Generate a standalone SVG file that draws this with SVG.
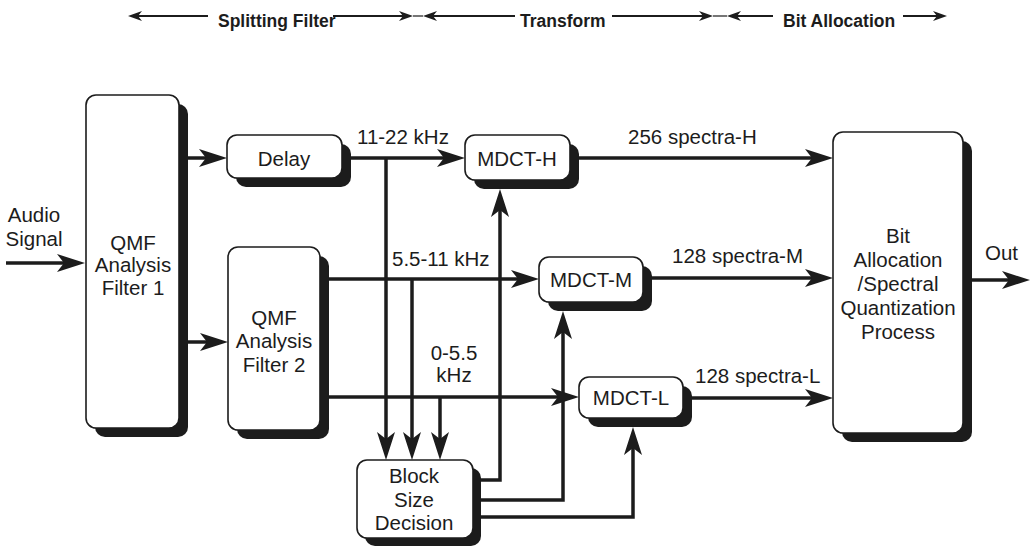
<svg xmlns="http://www.w3.org/2000/svg" width="1034" height="547" viewBox="0 0 1034 547">
  <defs>
    <!-- barbed arrowhead for signal paths: tip sits 10px past the path end -->
    <marker id="arr" viewBox="0 0 28 18" refX="18" refY="9" markerWidth="28" markerHeight="18" markerUnits="userSpaceOnUse" orient="auto">
      <path d="M0,0 L28,9 L0,18 L7,9 Z" fill="#1c1c1c"/>
    </marker>
    <!-- small arrowhead for the stage ruler at the top -->
    <marker id="sarr" viewBox="0 0 14 10" refX="9" refY="5" markerWidth="14" markerHeight="10" markerUnits="userSpaceOnUse" orient="auto">
      <path d="M0,0 L14,5 L0,10 L4,5 Z" fill="#1c1c1c"/>
    </marker>
  </defs>
  <style>
    text { font-family: "Liberation Sans", Arial, sans-serif; font-size: 20.5px; fill: #1c1c1c; }
    .c { text-anchor: middle; }
    .hdr { font-weight: bold; font-size: 17.5px; }
    .box { fill: #ffffff; stroke: #1c1c1c; stroke-width: 1.6; }
    .shadow { fill: #1c1c1c; }
    .wire { fill: none; stroke: #1c1c1c; stroke-width: 3.5; }
    .arrow { marker-end: url(#arr); }
    .ruler { fill: none; stroke: #1c1c1c; stroke-width: 1.8; marker-end: url(#sarr); }
  </style>

  <rect width="1034" height="547" fill="#ffffff"/>

  <!-- stage ruler -->
  <g id="stages">
    <line class="ruler" x1="208" y1="16" x2="133" y2="16"/>
    <text class="hdr" x="218" y="27">Splitting Filter</text>
    <line class="ruler" x1="333" y1="16" x2="408" y2="16"/>
    <line x1="413" y1="16" x2="423" y2="16" stroke="#1c1c1c" stroke-width="1.2"/>
    <line class="ruler" x1="515" y1="16" x2="428" y2="16"/>
    <text class="hdr" x="520" y="27">Transform</text>
    <line class="ruler" x1="612" y1="16" x2="708" y2="16"/>
    <line x1="713" y1="16" x2="727" y2="16" stroke="#1c1c1c" stroke-width="1.2"/>
    <line class="ruler" x1="773" y1="16" x2="732" y2="16"/>
    <text class="hdr" x="783" y="27">Bit Allocation</text>
    <line class="ruler" x1="903" y1="16" x2="942" y2="16"/>
  </g>

  <!-- connectors -->
  <g id="connectors">
    <line class="wire arrow" x1="6" y1="263" x2="75" y2="263"/>
    <line class="wire arrow" x1="186" y1="158" x2="217" y2="158"/>
    <line class="wire arrow" x1="186" y1="342" x2="218" y2="342"/>
    <line class="wire arrow" x1="349" y1="158" x2="455" y2="158"/>
    <line class="wire arrow" x1="386" y1="158" x2="386" y2="450"/>
    <line class="wire arrow" x1="327" y1="279" x2="529" y2="279"/>
    <line class="wire arrow" x1="412" y1="279" x2="412" y2="450"/>
    <line class="wire arrow" x1="327" y1="397" x2="569" y2="397"/>
    <line class="wire arrow" x1="440" y1="397" x2="440" y2="450"/>
    <polyline class="wire arrow" points="479,480 500,480 500,199"/>
    <polyline class="wire arrow" points="479,500 563,500 563,321"/>
    <polyline class="wire arrow" points="479,517 633,517 633,437"/>
    <line class="wire arrow" x1="577" y1="158" x2="823" y2="158"/>
    <line class="wire arrow" x1="650" y1="278" x2="823" y2="278"/>
    <line class="wire arrow" x1="690" y1="398" x2="823" y2="398"/>
    <line class="wire arrow" x1="970" y1="280" x2="1020" y2="280"/>
  </g>

  <!-- connector labels -->
  <g id="labels">
    <text class="c" x="34" y="222">Audio</text>
    <text class="c" x="34" y="246">Signal</text>
    <text x="357" y="144">11-22 kHz</text>
    <text x="392" y="266">5.5-11 kHz</text>
    <text class="c" x="454" y="360">0-5.5</text>
    <text class="c" x="454" y="382">kHz</text>
    <text x="628" y="144">256 spectra-H</text>
    <text x="672" y="263">128 spectra-M</text>
    <text x="695" y="383">128 spectra-L</text>
    <text x="985" y="260">Out</text>
  </g>

  <g id="qmf1">
    <rect class="shadow" x="95" y="104" width="93" height="333" rx="10"/>
    <rect class="box" x="86" y="95" width="93" height="333" rx="10"/>
    <text class="c" x="133" y="250">QMF</text>
    <text class="c" x="133" y="272">Analysis</text>
    <text class="c" x="133" y="295">Filter 1</text>
  </g>

  <g id="delay">
    <rect class="shadow" x="236" y="144" width="115" height="43" rx="10"/>
    <rect class="box" x="227" y="135" width="115" height="43" rx="10"/>
    <text class="c" x="284" y="166">Delay</text>
  </g>

  <g id="qmf2">
    <rect class="shadow" x="237" y="256" width="92" height="183" rx="10"/>
    <rect class="box" x="228" y="247" width="92" height="183" rx="10"/>
    <text class="c" x="274" y="325">QMF</text>
    <text class="c" x="274" y="348">Analysis</text>
    <text class="c" x="274" y="372">Filter 2</text>
  </g>

  <g id="mdct-h">
    <rect class="shadow" x="474" y="144" width="105" height="45" rx="10"/>
    <rect class="box" x="465" y="135" width="105" height="45" rx="10"/>
    <text class="c" x="517" y="166">MDCT-H</text>
  </g>

  <g id="mdct-m">
    <rect class="shadow" x="548" y="266" width="104" height="45" rx="10"/>
    <rect class="box" x="539" y="257" width="104" height="45" rx="10"/>
    <text class="c" x="591" y="287">MDCT-M</text>
  </g>

  <g id="mdct-l">
    <rect class="shadow" x="588" y="386" width="104" height="41" rx="10"/>
    <rect class="box" x="579" y="377" width="104" height="41" rx="10"/>
    <text class="c" x="631" y="405">MDCT-L</text>
  </g>

  <g id="block-size">
    <rect class="shadow" x="365" y="468" width="116" height="78" rx="10"/>
    <rect class="box" x="357" y="460" width="116" height="78" rx="10"/>
    <text class="c" x="414" y="483">Block</text>
    <text class="c" x="414" y="507">Size</text>
    <text class="c" x="414" y="530">Decision</text>
  </g>

  <g id="bit-allocation">
    <rect class="shadow" x="842" y="141" width="130" height="301" rx="10"/>
    <rect class="box" x="833" y="132" width="130" height="301" rx="10"/>
    <text class="c" x="898" y="243">Bit</text>
    <text class="c" x="898" y="267">Allocation</text>
    <text class="c" x="898" y="291">/Spectral</text>
    <text class="c" x="898" y="315">Quantization</text>
    <text class="c" x="898" y="339">Process</text>
  </g>
</svg>
